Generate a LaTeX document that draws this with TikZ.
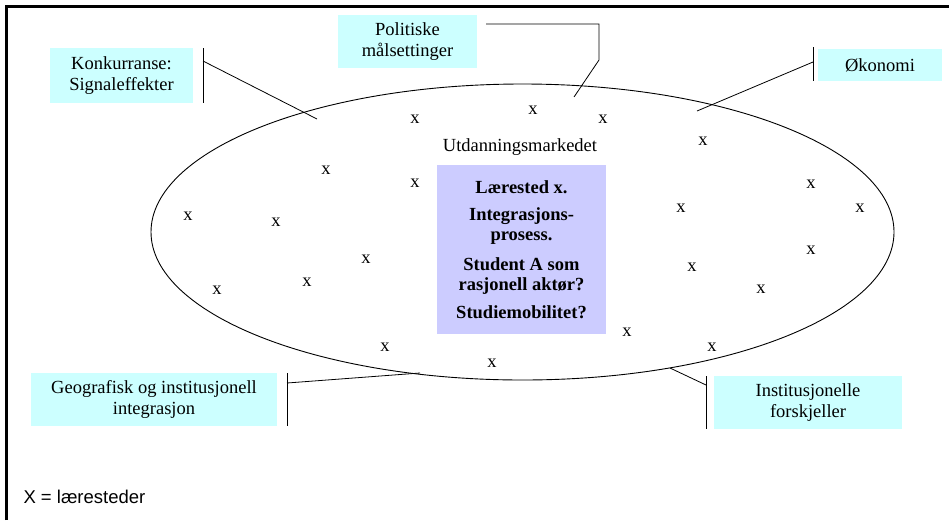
\documentclass[tikz,border=0pt]{standalone}
\usepackage{fontspec}
\setmainfont{Liberation Serif}
\setsansfont{Liberation Sans}
\definecolor{factorfill}{HTML}{CCFFFF}
\definecolor{corefill}{HTML}{CCCCFF}
\tikzset{
  factor/.style={fill=factorfill, inner sep=0pt, align=center,
    font=\fontsize{18.5}{21}\selectfont},
  core/.style={fill=corefill, inner sep=0pt, align=center,
    minimum width=169, minimum height=169,
    font=\fontsize{18.5}{20}\selectfont\bfseries},
  xmark/.style={font=\fontsize{18.5}{21}\selectfont, inner sep=0pt},
}
\begin{document}
\begin{tikzpicture}[x=1pt, y=-1pt]
      \useasboundingbox (0,0) rectangle (949,520);
      \draw[line width=3pt] (6,520) -- (6,6) -- (949,6);
      \draw[line width=0.9pt] (522.5,232) ellipse [x radius=371.5, y radius=148];
      \node[factor, minimum width=143, minimum height=55] (konk) at (121.5,75.5)
        {Konkurranse:\\Signaleffekter};
      \node[factor, minimum width=139, minimum height=53] (pol) at (407.5,41.5)
        {Politiske\\målsettinger};
      \node[factor, minimum width=124, minimum height=32] (oko) at (880,65)
        {Økonomi};
      \node[factor, minimum width=246, minimum height=53] (geo) at (154,399.5)
        {Geografisk og institusjonell\\integrasjon};
      \node[factor, minimum width=188, minimum height=53] (inst) at (808,402.5)
        {Institusjonelle\\forskjeller};
      \node[core] (laer) at (521.5,249.5)
        {Lærested x.\\[7pt]Integrasjons-\\prosess.\\[10pt]Student A som\\rasjonell aktør?\\[8pt]Studiemobilitet?};
      \node[font=\fontsize{18.5}{21}\selectfont] (marked) at (520,147) {Utdanningsmarkedet};
      \node[font=\sffamily\fontsize{18.5}{21}\selectfont, anchor=west] (legend) at (20,497)
        {X = læresteder};
      \draw
        (415,119) node[xmark] (x1){x}
        (533,110) node[xmark] (x2){x}
        (603,119) node[xmark] (x3){x}
        (703,141) node[xmark] (x4){x}
        (326,170) node[xmark] (x5){x}
        (415,183) node[xmark] (x6){x}
        (811,184) node[xmark] (x7){x}
        (188,216) node[xmark] (x8){x}
        (276,222) node[xmark] (x9){x}
        (681,208) node[xmark] (x10){x}
        (860,208) node[xmark] (x11){x}
        (366,259) node[xmark] (x12){x}
        (811,250) node[xmark] (x13){x}
        (692,267) node[xmark] (x14){x}
        (307,282) node[xmark] (x15){x}
        (217,290) node[xmark] (x16){x}
        (761,289) node[xmark] (x17){x}
        (627,332) node[xmark] (x18){x}
        (385,347) node[xmark] (x19){x}
        (492,363) node[xmark] (x20){x}
        (712,347) node[xmark] (x21){x};
      % pointers from the factors into the market
      \coordinate (konkbar) at (203,61);
      \coordinate (konkend) at (317,119);
      \coordinate (polbar) at (486,24);
      \coordinate (polbend) at (599,24);
      \coordinate (polknee) at (599,60);
      \coordinate (polend) at (574,97);
      \coordinate (okobar) at (813,62);
      \coordinate (okoend) at (697,111);
      \coordinate (geobar) at (287,383);
      \coordinate (geoend) at (420,373);
      \coordinate (instbar) at (706,385);
      \coordinate (instend) at (670,368);
      \begin{scope}[line width=0.8pt]
        \draw (203,48) -- (203,103);
        \draw (konkbar) to (konkend);
        \draw (polbar) -- (polbend) -- (polknee) -- (polend);
        \draw (813,47) -- (813,81);
        \draw (okobar) to (okoend);
        \draw (287,373) -- (287,426);
        \draw (geobar) to (geoend);
        \draw (706,376) -- (706,429);
        \draw (instbar) to (instend);
      \end{scope}
    \end{tikzpicture}
\end{document}
